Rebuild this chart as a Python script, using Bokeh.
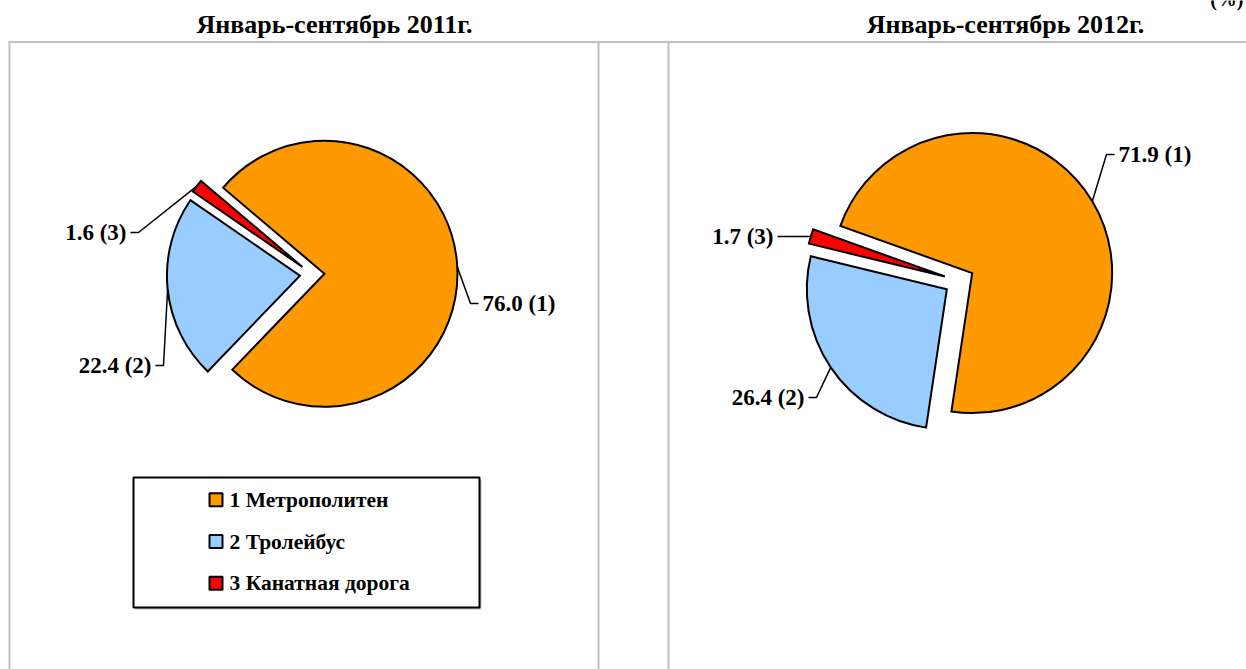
import math
from bokeh.plotting import figure
from bokeh.models import Range1d
from bokeh.core.properties import value
from bokeh.embed import file_html
from bokeh.resources import INLINE

# ---------------- data ----------------
categories = ["1 Метрополитен", "2 Тролейбус", "3 Канатная дорога"]
slice_ids = ["(1)", "(2)", "(3)"]
colors = ["#FF9900", "#99CCFF", "#FF0000"]
values_2011 = [76.0, 22.4, 1.6]
values_2012 = [71.9, 26.4, 1.7]
titles = ["Январь-сентябрь 2011г.", "Январь-сентябрь 2012г."]
unit_label = "(%)"

# ---------------- layout (screen px, page has no body margin) ----------------
W, H = 1246, 669
FONT = value("Liberation Serif")

p = figure(width=W, height=H, x_range=Range1d(0, W), y_range=Range1d(-H, 0),
           output_backend="svg", toolbar_location=None, min_border=0,
           x_axis_location=None, y_axis_location=None, outline_line_color=None)
p.grid.visible = False
p.background_fill_color = "white"


def Y(sy):
    return -sy


# table grid lines
grid_col = "#c0c0c0"
p.segment(x0=[8], y0=[Y(41.5)], x1=[W], y1=[Y(41.5)], line_color=grid_col, line_width=2)
p.segment(x0=[9, 598, 668], y0=[Y(41.5)] * 3, x1=[9, 598, 668], y1=[Y(H)] * 3,
          line_color=grid_col, line_width=2)

# unit label at top right (cut off by the top edge, as in the reference)
p.text(x=[1243], y=[Y(-2)], text=[unit_label], text_align="right",
       text_baseline="alphabetic", text_font=FONT, text_font_style="bold",
       text_font_size="20px", text_color="black")

# titles
p.text(x=[334, 1005], y=[Y(24), Y(24)], text=titles, text_align="center",
       text_baseline="middle", text_font=FONT, text_font_style="bold",
       text_font_size="26px", text_color="black")


def draw_pie(vals, cx, cy, r, d, start_deg, label_pos):
    total = sum(vals)
    cum = 0.0
    xs, ys, sa, ea = [], [], [], []
    lead_x, lead_y = [], []
    tx, ty, tt, ta = [], [], [], []
    for i, v in enumerate(vals):
        a_hi = start_deg - cum / total * 360.0
        a_lo = a_hi - v / total * 360.0
        cum += v
        mid = math.radians((a_hi + a_lo) / 2.0)
        ox = cx + d * math.cos(mid)
        oy = Y(cy) + d * math.sin(mid)
        xs.append(ox); ys.append(oy)
        sa.append(math.radians(a_lo)); ea.append(math.radians(a_hi))
        axp = ox + r * math.cos(mid)
        ayp = oy + r * math.sin(mid)
        lx, ly, side = label_pos[i]
        if side == "right":
            lead_x.append([axp, lx - 12, lx - 4]); lead_y.append([ayp, Y(ly), Y(ly)])
            ta.append("left")
        else:
            lead_x.append([axp, lx + 12, lx + 4]); lead_y.append([ayp, Y(ly), Y(ly)])
            ta.append("right")
        tx.append(lx); ty.append(Y(ly)); tt.append(f"{v:.1f} {slice_ids[i]}")
    p.wedge(x=xs, y=ys, radius=r, start_angle=sa, end_angle=ea, direction="anticlock",
            fill_color=colors, line_color="black", line_width=2, line_join="miter")
    p.multi_line(xs=lead_x, ys=lead_y, line_color="black", line_width=1.5)
    for j in range(len(tx)):
        p.text(x=[tx[j]], y=[ty[j]], text=[tt[j]], text_align=ta[j], text_baseline="middle",
               text_font=FONT, text_font_style="bold", text_font_size="23px",
               text_color="black")


draw_pie(values_2011, 311.7, 273.9, 133, 12.3, 139.7,
         [(482, 303, "right"), (151, 365, "left"), (126, 232, "left")])
draw_pie(values_2012, 958.8, 280.3, 140, 15.0, 160.3,
         [(1118, 154, "right"), (804, 397, "left"), (773, 236, "left")])

# legend
p.quad(left=[135], right=[481], top=[Y(479)], bottom=[Y(609)], fill_color="#bfbfbf",
       line_color=None)
p.quad(left=[133], right=[479], top=[Y(477)], bottom=[Y(607)], fill_color="white",
       line_color="black", line_width=2)
leg_y = [499.3, 541.0, 582.7]
p.quad(left=[209] * 3, right=[222] * 3, top=[Y(y - 6.5) for y in leg_y],
       bottom=[Y(y + 6.5) for y in leg_y], fill_color=colors, line_color="black",
       line_width=2)
p.text(x=[229] * 3, y=[Y(y) for y in leg_y], text=categories, text_align="left",
       text_baseline="middle", text_font=FONT, text_font_style="bold",
       text_font_size="21.5px", text_color="black")

open("out.html", "w").write(file_html(p, INLINE))
